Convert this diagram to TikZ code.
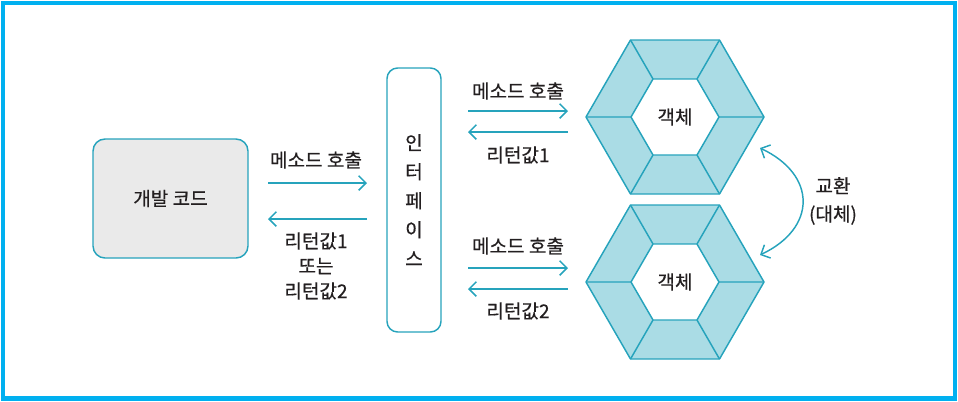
\documentclass[tikz,border=0pt]{standalone}
\usepackage{fontspec}
\setmainfont{Noto Sans CJK KR}[FakeBold=0.5]
\usetikzlibrary{arrows.meta}
\definecolor{lineC}{RGB}{38,163,188}
\definecolor{hexC}{RGB}{170,220,229}
\definecolor{frameC}{RGB}{0,176,240}
\definecolor{boxC}{RGB}{234,234,234}
\definecolor{txtC}{RGB}{35,31,32}

\begin{document}
\begin{tikzpicture}[x=0.75pt,y=0.75pt,yscale=-1,xscale=1,
  lbl/.style={text=txtC, font=\fontsize{14.3}{18.75}\selectfont, inner sep=0.75pt, align=center},
  callarr/.style={draw=lineC, line width=1.1pt, -{Straight Barb[length=5.5pt,width=11pt]}},
  swaparr/.style={draw=lineC, line width=1.1pt, {Straight Barb[length=5.5pt,width=11pt]}-{Straight Barb[length=5.5pt,width=11pt]}},
  hexline/.style={draw=lineC, line width=1.1pt, line join=round}]
\useasboundingbox (0,0) rectangle (958,401);

%Shape: Frame
\draw [frameC, line width=3.4pt] (3,3) rectangle (955,398.5) ;

%Shape: Rectangle [dev]
\node [draw=lineC, line width=1.1pt, fill=boxC, rounded corners=9pt, minimum width=116.25pt, minimum height=89.25pt, lbl] (dev) at (170.5,198.5) {개발 코드};

%Shape: Rectangle [iface]
\node [draw=lineC, line width=1.1pt, rounded corners=8pt, minimum width=40.5pt, minimum height=198pt, lbl, font=\fontsize{14.3}{21.75}\selectfont] (iface) at (414,200) {인\\터\\페\\이\\스};

%Shape: Hexagon [upper]
\begin{scope}[shift={(675,117)}]
\draw [hexline, fill=hexC] (89,0) -- (44.5,-77) -- (-44.5,-77) -- (-89,0) -- (-44.5,77) -- (44.5,77) -- cycle ;
\draw [hexline, fill=white] (44,0) -- (22,-38) -- (-22,-38) -- (-44,0) -- (-22,38) -- (22,38) -- cycle ;
\draw [hexline] (89,0) -- (44,0) (44.5,-77) -- (22,-38) (-44.5,-77) -- (-22,-38) (-89,0) -- (-44,0) (-44.5,77) -- (-22,38) (44.5,77) -- (22,38) ;
\node [lbl] (obj1) at (0,0) {객체};
\end{scope}

%Shape: Hexagon [lower]
\begin{scope}[shift={(675,282)}]
\draw [hexline, fill=hexC] (89,0) -- (44.5,-77) -- (-44.5,-77) -- (-89,0) -- (-44.5,77) -- (44.5,77) -- cycle ;
\draw [hexline, fill=white] (44,0) -- (22,-38) -- (-22,-38) -- (-44,0) -- (-22,38) -- (22,38) -- cycle ;
\draw [hexline] (89,0) -- (44,0) (44.5,-77) -- (22,-38) (-44.5,-77) -- (-22,-38) (-89,0) -- (-44,0) (-44.5,77) -- (-22,38) (44.5,77) -- (22,38) ;
\node [lbl] (obj2) at (0,0) {객체};
\end{scope}

%Straight Lines [dev <-> iface]
\coordinate (devcallA) at (268,183) ;
\coordinate (devcallB) at (367,183) ;
\coordinate (devretA) at (367,219) ;
\coordinate (devretB) at (268,219) ;
\draw [callarr] (devcallA) -- (devcallB) ;
\draw [callarr] (devretA) -- (devretB) ;

%Straight Lines [iface <-> obj1]
\coordinate (objcallA) at (468,111) ;
\coordinate (objcallB) at (568,111) ;
\coordinate (objretA) at (568,132) ;
\coordinate (objretB) at (468,132) ;
\draw [callarr] (objcallA) -- (objcallB) ;
\draw [callarr] (objretA) -- (objretB) ;

%Straight Lines [iface <-> obj2]
\coordinate (objcallC) at (468,268) ;
\coordinate (objcallD) at (568,268) ;
\coordinate (objretC) at (568,289) ;
\coordinate (objretD) at (468,289) ;
\draw [callarr] (objcallC) -- (objcallD) ;
\draw [callarr] (objretC) -- (objretD) ;

%Curve Lines [swap]
\coordinate (swapA) at (760,148) ;
\coordinate (swapB) at (760,255) ;
\draw [swaparr] (swapA) .. controls (817,175) and (817,228) .. (swapB) ;

% Text Node
\node [lbl] (devcall) at (316,160) {메소드 호출};
\node [lbl] (devret) at (316,266) {리턴값1\\또는\\리턴값2};
\node [lbl] (objcall1) at (518,91) {메소드 호출};
\node [lbl] (objret1) at (518,155) {리턴값1};
\node [lbl] (objcall2) at (518,246) {메소드 호출};
\node [lbl] (objret2) at (518,311) {리턴값2};
\node [lbl, font=\fontsize{14.3}{21}\selectfont] (swap) at (833,201) {교환\\(대체)};

\end{tikzpicture}
\end{document}
